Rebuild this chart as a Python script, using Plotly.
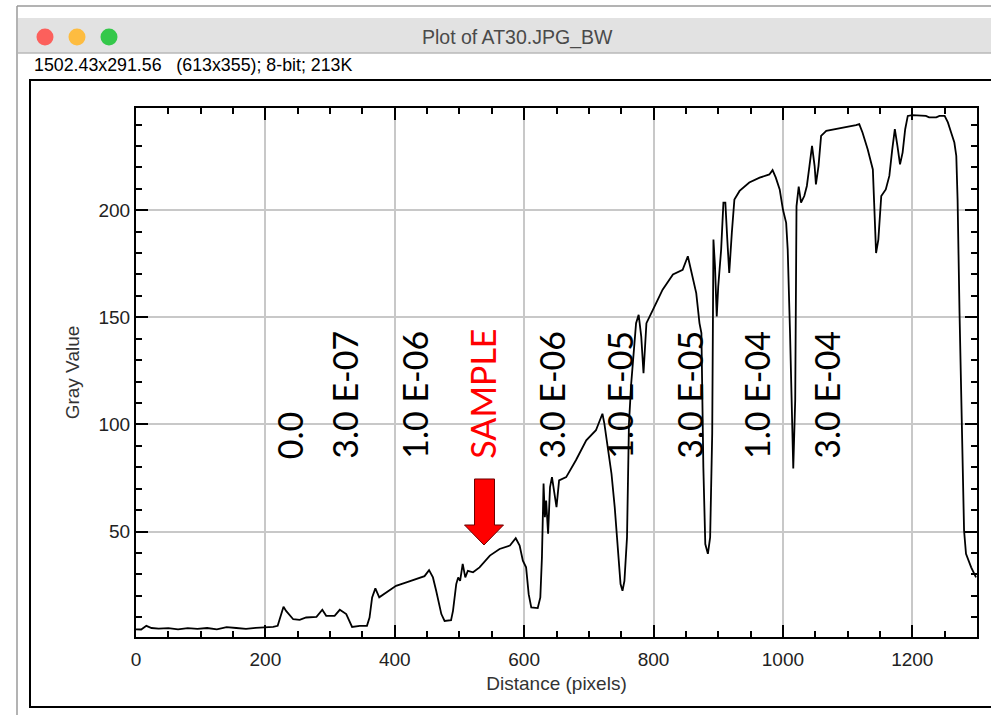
import plotly.graph_objects as go

# ---- data (distance in pixels, gray value) ----
distance = [0, 8, 16, 24, 35, 50, 65, 80, 95, 110, 125, 140, 155, 170, 185, 200, 212, 219,
            228, 232, 243, 253, 263, 279, 288, 294, 307, 315, 325, 334, 346, 357, 361, 365,
            370, 376, 387, 402, 418, 433, 446, 453, 459, 464, 472, 477, 487, 490, 495, 498,
            501, 505, 509, 513, 521, 531, 547, 562, 578, 587, 593, 598, 603, 607, 611, 621,
            625, 627.5, 630, 632, 634, 637, 640, 643, 647, 650, 654, 665, 680, 696, 711, 721,
            724, 729, 735, 740, 745, 749, 752, 755, 759, 760, 762, 765.5, 773, 777, 781,
            784.5, 789, 799, 814, 830, 845, 853, 858, 866, 871, 874, 877, 880, 884, 887.5,
            890.7, 892.6, 895, 897.7, 900, 904.5, 908, 911, 914, 917, 921, 925, 933, 948,
            964, 979, 984, 989, 995, 1000, 1005, 1007.4, 1011, 1014, 1016, 1019, 1021,
            1024.4, 1028, 1033, 1037, 1041, 1045, 1049, 1051, 1055, 1059, 1067, 1082, 1092,
            1113, 1118, 1123, 1131, 1139, 1141, 1144, 1147.5, 1152, 1159, 1164.5, 1169, 1173,
            1177, 1181, 1185, 1189, 1193, 1200, 1221, 1226, 1237, 1242, 1250, 1255, 1260,
            1265, 1268, 1270, 1273, 1275, 1278, 1280, 1283, 1291, 1298.5]
gray = [4.4, 4.3, 6.0, 5.0, 4.7, 4.9, 4.4, 4.9, 4.6, 5.0, 4.4, 5.4, 5.0, 4.6, 5.1, 5.4, 5.5, 6.0,
        14.9, 13.0, 9.1, 8.8, 9.9, 10.2, 13.5, 10.7, 10.7, 13.5, 11.5, 5.5, 6.0, 6.0, 9.9, 19.3,
        23.5, 19.3, 21.6, 24.7, 26.3, 27.9, 29.2, 32.0, 28.6, 22.4, 11.5, 8.3, 8.7, 13.0, 25.5, 28.6,
        27.0, 34.9, 28.6, 31.7, 31.0, 33.3, 38.8, 41.9, 43.5, 46.9, 43.5, 36.4, 33.3, 20.8, 14.6, 14.3,
        19.3, 38.0, 72.4, 56.7, 64.5, 49.0, 70.8, 75.4, 66.0, 61.4, 73.9, 75.4, 83.3, 92.6, 97.3, 105.0,
        100.4, 89.5, 77.0, 61.4, 42.7, 25.5, 22.4, 27.0, 47.3, 74.0, 100.5, 119.2, 147.3, 151.2, 141.0,
        123.9, 147.3, 153.5, 162.9, 170.0, 172.2, 178.5, 172.2, 161.3, 147.3, 142.6, 80.0, 44.2, 39.6, 47.3,
        95.8, 186.3, 173.8, 150.4, 164.4, 181.6, 203.5, 203.5, 186.3, 170.7, 189.4, 205.0, 209.0, 212.9,
        215.2, 216.7, 218.7, 215.2, 209.7, 200.3, 194.1, 181.6, 142.6, 100.4, 79.4, 111.4, 201.9,
        211.0, 203.5, 206.6, 211.3, 220.6, 230.0, 220.6, 212.0, 220.6, 234.7, 237.0, 237.8, 238.6,
        239.7, 240.2, 236.3, 228.4, 219.0, 203.5, 180.0, 186.3, 206.6, 209.7, 216.0, 228.4, 237.8,
        230.0, 221.4, 226.9, 237.8, 244.0, 244.4, 244.0, 243.3, 243.3, 244.0, 244.0, 241.0, 236.3,
        231.6, 225.3, 205.0, 152.0, 119.2, 72.4, 50.5, 39.6, 33.3, 28.6]

conc_labels = ["0.0", "3.0 E-07", "1.0 E-06", "SAMPLE", "3.0 E-06",
               "1.0 E-05", "3.0 E-05", "1.0 E-04", "3.0 E-04"]
label_distance = [237.7, 322.8, 431, 536, 643, 748, 856, 960, 1068]
label_colors = ["black", "black", "black", "red", "black", "black", "black", "black", "black"]

x_ticks = [0, 200, 400, 600, 800, 1000, 1200]
y_ticks = [50, 100, 150, 200]

window_title = "Plot of AT30.JPG_BW"
info_line = "1502.43x291.56\u00a0\u00a0\u00a0(613x355); 8-bit; 213K"

# ---- geometry helpers (pixel -> paper) ----
L, R, T, B = 136, 14, 108, 78
W, H = 991, 715
PW, PH = W - L - R, H - T - B


def PX(x):
    return (x - L) / PW


def PY(y):
    return (H - B - y) / PH


fig = go.Figure()
fig.add_trace(go.Scatter(x=distance, y=gray, mode="lines",
                         line=dict(color="black", width=1.8), hoverinfo="x+y",
                         showlegend=False))

tickfont = dict(family="Liberation Sans, Arial, sans-serif", size=19, color="#222222")
titlefont = dict(family="Liberation Sans, Arial, sans-serif", size=19, color="#333333")

fig.update_xaxes(range=[0, 1300], tickvals=x_ticks, ticks="inside", ticklen=12, tickwidth=2,
                 tickcolor="black", showline=True, linecolor="black", linewidth=2,
                 mirror="ticks", showgrid=True, gridcolor="#c8c8c8", gridwidth=1.5,
                 zeroline=False, tickfont=tickfont, ticklabelstandoff=4,
                 minor=dict(dtick=50, tick0=0, ticks="inside", ticklen=6, tickwidth=2,
                            tickcolor="black", showgrid=False),
                 title=dict(text="Distance (pixels)", font=titlefont, standoff=8))
fig.update_yaxes(range=[0.8, 247.7], tickvals=y_ticks, ticks="inside", ticklen=12, tickwidth=2,
                 tickcolor="black", showline=True, linecolor="black", linewidth=2,
                 mirror="ticks", showgrid=True, gridcolor="#c8c8c8", gridwidth=1.5,
                 zeroline=False, tickfont=tickfont,
                 minor=dict(dtick=10, tick0=0, ticks="inside", ticklen=6, tickwidth=2,
                            tickcolor="black", showgrid=False),
                 title=dict(text="Gray Value", font=titlefont, standoff=14))

shapes = []
# window outline
shapes.append(dict(type="line", xref="paper", yref="paper", x0=PX(17), x1=PX(995),
                   y0=PY(6), y1=PY(6), line=dict(color="#9a9a9a", width=1.5)))
shapes.append(dict(type="line", xref="paper", yref="paper", x0=PX(17), x1=PX(17),
                   y0=PY(6), y1=PY(716), line=dict(color="#9a9a9a", width=1.5)))
# title bar
shapes.append(dict(type="rect", xref="paper", yref="paper", x0=PX(18), x1=PX(995),
                   y0=PY(18), y1=PY(53), fillcolor="#e2e2e2", line=dict(width=0)))
shapes.append(dict(type="line", xref="paper", yref="paper", x0=PX(18), x1=PX(995),
                   y0=PY(53), y1=PY(53), line=dict(color="#b8b8b8", width=1.5)))
# traffic lights
for cx, col in [(45, "#fc605c"), (77, "#fdbc40"), (109, "#34c84a")]:
    shapes.append(dict(type="circle", xref="paper", yref="paper",
                       x0=PX(cx - 8.5), x1=PX(cx + 8.5), y0=PY(37 + 8.5), y1=PY(37 - 8.5),
                       fillcolor=col, line=dict(width=0)))
# image canvas border
shapes.append(dict(type="rect", xref="paper", yref="paper", x0=PX(30), x1=PX(1000),
                   y0=PY(707), y1=PY(80), line=dict(color="black", width=2),
                   fillcolor="rgba(0,0,0,0)"))
# red arrow
arrow_pts = [(474.5, 479), (494.5, 479), (494.5, 525), (503.5, 525), (484, 545),
             (464.5, 525), (474.5, 525)]
path = "M " + " L ".join(f"{PX(x):.5f},{PY(y):.5f}" for x, y in arrow_pts) + " Z"
shapes.append(dict(type="path", xref="paper", yref="paper", path=path,
                   fillcolor="#ff0000", line=dict(color="#6b0000", width=1)))

annotations = []
annotations.append(dict(text=window_title, xref="paper", yref="paper", x=PX(517), y=PY(37),
                        xanchor="center", yanchor="middle", showarrow=False,
                        font=dict(family="Liberation Sans, Arial, sans-serif", size=19.5,
                                  color="#4a4a4a")))
annotations.append(dict(text=info_line, xref="paper", yref="paper", x=PX(32), y=PY(65),
                        xanchor="left", yanchor="middle", showarrow=False,
                        font=dict(family="Liberation Sans, Arial, sans-serif", size=17.8,
                                  color="black")))
for lab, xd, col in zip(conc_labels, label_distance, label_colors):
    annotations.append(dict(text=lab, x=xd, y=83.0, xref="x", yref="y", textangle=-90,
                            xanchor="center", yanchor="bottom", showarrow=False,
                            font=dict(family="Lato, Open Sans, sans-serif", size=34, color=col)))

fig.update_layout(width=W, height=H, margin=dict(l=L, r=R, t=T, b=B, autoexpand=False),
                  paper_bgcolor="white", plot_bgcolor="white",
                  shapes=shapes, annotations=annotations)

fig.write_html("out.html")
